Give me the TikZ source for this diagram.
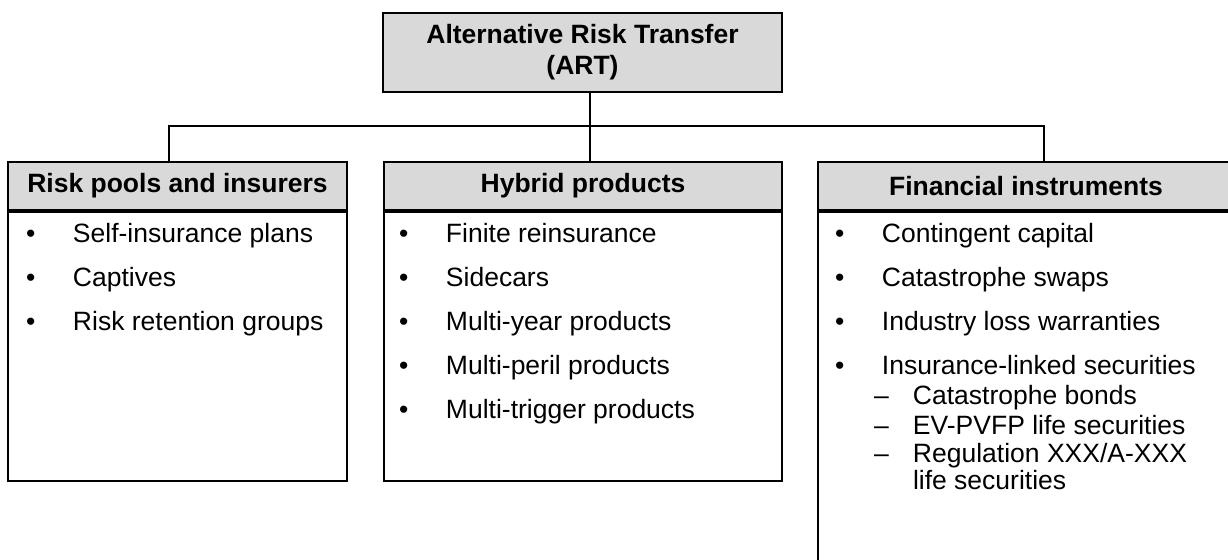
\documentclass[tikz,border=0pt]{standalone}
\usepackage{fontspec}
\setmainfont{Liberation Sans}
\usetikzlibrary{positioning}
\definecolor{boxgray}{RGB}{217,217,217}

\begin{document}
\begin{tikzpicture}[x=0.5pt, y=-0.5pt, line width=1pt,
  font=\fontsize{13.25}{15.5}\selectfont,
  head/.style={draw, fill=boxgray, font=\fontsize{13.25}{15.5}\selectfont\bfseries,
    minimum height=24pt, inner sep=0pt, anchor=north west},
  body/.style={draw, inner sep=0pt, below=0pt of #1},
  item/.style={anchor=base west, inner sep=0pt}]

  \useasboundingbox (0,0) rectangle (1228,560);
  \clip (0,0) rectangle (1228,560);

  % top of the tree
  \node[head, align=center, minimum width=199.5pt, minimum height=39.5pt] (art) at (382,12)
    {Alternative Risk Transfer\\(ART)};

  % the three branches
  \node[head, minimum width=169.5pt] (pools) at (7,161) {Risk pools and insurers};
  \node[head, minimum width=199pt] (hybrid) at (383,161) {Hybrid products};
  \node[head, minimum width=208pt] (fin) at (817,161) {Financial instruments};

  \node[body=pools, minimum width=169.5pt, minimum height=134.5pt] (poolsbox) {};
  \node[body=hybrid, minimum width=199pt, minimum height=134.5pt] (hybridbox) {};
  \node[body=fin, minimum width=208pt, minimum height=195.5pt] (finbox) {};

  % connectors
  \coordinate (bus) at (590,126);
  \coordinate (busl) at (169,126);
  \coordinate (busr) at (1044,126);
  \draw (art.south -| bus) -- (hybrid.north -| bus);
  \draw (pools.north -| busl) -- (busl) -- (busr) -- (fin.north -| busr);

  % risk pools and insurers
  \node[item] (p1) at (25,243) {\makebox[23.5pt][l]{•}Self-insurance plans};
  \node[item] (p2) at (25,287) {\makebox[23.5pt][l]{•}Captives};
  \node[item] (p3) at (25,331) {\makebox[23.5pt][l]{•}Risk retention groups};

  % hybrid products
  \node[item] (h1) at (398,243) {\makebox[23.5pt][l]{•}Finite reinsurance};
  \node[item] (h2) at (398,287) {\makebox[23.5pt][l]{•}Sidecars};
  \node[item] (h3) at (398,331) {\makebox[23.5pt][l]{•}Multi-year products};
  \node[item] (h4) at (398,375) {\makebox[23.5pt][l]{•}Multi-peril products};
  \node[item] (h5) at (398,419) {\makebox[23.5pt][l]{•}Multi-trigger products};

  % financial instruments
  \node[item] (f1) at (834,243) {\makebox[23.5pt][l]{•}Contingent capital};
  \node[item] (f2) at (834,287) {\makebox[23.5pt][l]{•}Catastrophe swaps};
  \node[item] (f3) at (834,331) {\makebox[23.5pt][l]{•}Industry loss warranties};
  \node[item] (f4) at (834,375) {\makebox[23.5pt][l]{•}Insurance-linked securities};
  \node[item] (f5) at (873,405) {\makebox[19.5pt][l]{–}Catastrophe bonds};
  \node[item] (f6) at (873,435) {\makebox[19.5pt][l]{–}EV-PVFP life securities};
  \node[item] (f7) at (873,463) {\makebox[19.5pt][l]{–}Regulation XXX/A-XXX};
  \node[item] (f7b) at (912,490) {life securities};

\end{tikzpicture}
\end{document}
